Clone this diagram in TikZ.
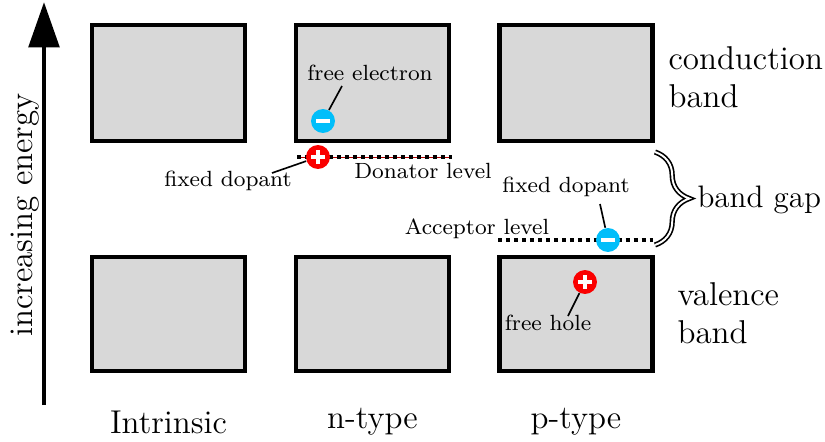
\documentclass[tikz,border=0pt]{standalone}
\usetikzlibrary{arrows.meta,decorations.pathreplacing}
\definecolor{bandgray}{RGB}{216,216,216}
\definecolor{electronblue}{RGB}{0,190,250}
\definecolor{holered}{RGB}{250,0,0}
\tikzset{
  band/.style={draw, fill=bandgray, line width=1.5pt, inner sep=0pt,
               minimum width=55.6pt},
  bigtext/.style={font=\large, inner sep=0pt},
  smalltext/.style={font=\footnotesize, inner sep=0pt},
  level/.style={line width=1.45pt, dash pattern=on 1.45pt off 1.45pt},
  levelcore/.style={line width=0.35pt, red!70!black},
  charge/.style={circle, inner sep=0pt, minimum size=8.7pt},
  signline/.style={white, line width=1.3pt},
  plus/.style={charge, fill=holered, path picture={
      \draw[signline] ([xshift=-2.5pt]path picture bounding box.center) -- ++(5pt,0);
      \draw[signline] ([yshift=-2.5pt]path picture bounding box.center) -- ++(0,5pt);}},
  minus/.style={charge, fill=electronblue, path picture={
      \draw[signline] ([xshift=-2.5pt]path picture bounding box.center) -- ++(5pt,0);}},
  pointer/.style={line width=0.6pt},
  gapbrace/.style={decorate, decoration={brace, amplitude=12.5pt, aspect=0.5},
                   double, line width=0.6pt, double distance=0.7pt}
}
\begin{document}
\begin{tikzpicture}[x=0.3636pt, y=-0.3636pt]
  \useasboundingbox (0,0) rectangle (825,441);

  % energy axis
  \coordinate (eLow) at (44,405);
  \coordinate (eHigh) at (44,2);
  \draw[line width=1.8pt, -{Triangle[length=16.5pt, width=11pt]}] (eLow) -- (eHigh);
  \node[bigtext, rotate=90] (axis) at (25,215) {increasing energy};

  % conduction bands
  \node[band, minimum height=42.2pt] (cbI) at (168.5,83) {};
  \node[band, minimum height=42.2pt] (cbN) at (372.5,83) {};
  \node[band, minimum height=42.2pt] (cbP) at (576,83) {};
  % valence bands
  \node[band, minimum height=41.5pt] (vbI) at (168.5,314) {};
  \node[band, minimum height=41.5pt] (vbN) at (372.5,314) {};
  \node[band, minimum height=41.5pt] (vbP) at (576,314) {};

  % column titles
  \node[bigtext] (tI) at (168.5,422) {Intrinsic};
  \node[bigtext] (tN) at (372.5,422) {n-type};
  \node[bigtext] (tP) at (576,422) {p-type};

  % row titles
  \node[bigtext, anchor=west, align=left] (tCB) at (668,77) {conduction\\band};
  \node[bigtext, anchor=west, align=left] (tVB) at (677,313) {valence\\band};

  % donor level (n-type)
  \coordinate (dA) at (297,157);
  \coordinate (dB) at (452,157);
  \draw[levelcore] (dA) -- (dB);
  \draw[level] (dA) -- (dB);
  \node[plus] (donor) at (318,157) {};
  \node[smalltext] (donorLbl) at (423,171) {Donator level};
  \node[smalltext] (fdN) at (228,181) {fixed dopant};
  \coordinate (fdNtip) at (272,173);
  \draw[pointer] (fdNtip) -- (donor);

  % free electron
  \node[minus] (elec) at (323,121) {};
  \node[smalltext] (elecLbl) at (370,73) {free electron};
  \coordinate (elecTip) at (342,86);
  \draw[pointer] (elecTip) -- (elec);

  % acceptor level (p-type)
  \coordinate (aA) at (498,240);
  \coordinate (aB) at (653,240);
  \draw[level] (aA) -- (aB);
  \node[minus] (acceptor) at (608,240) {};
  \node[smalltext] (acceptorLbl) at (477,229) {Acceptor level};
  \node[smalltext] (fdP) at (566,187) {fixed dopant};
  \coordinate (fdPtip) at (600,204);
  \draw[pointer] (fdPtip) -- (acceptor);

  % free hole
  \node[plus] (hole) at (585,282) {};
  \node[smalltext] (holeLbl) at (548,323) {free hole};
  \coordinate (holeTip) at (568,316);
  \draw[pointer] (holeTip) -- (hole);

  % band gap brace
  \coordinate (gTop) at (655,152);
  \coordinate (gBot) at (655,245);
  \draw[gapbrace] (gTop) -- (gBot);
  \node[font=\fontsize{11.3}{13.6}\selectfont, inner sep=0pt, anchor=west] (gapLbl) at (697,200) {band gap};
\end{tikzpicture}
\end{document}
